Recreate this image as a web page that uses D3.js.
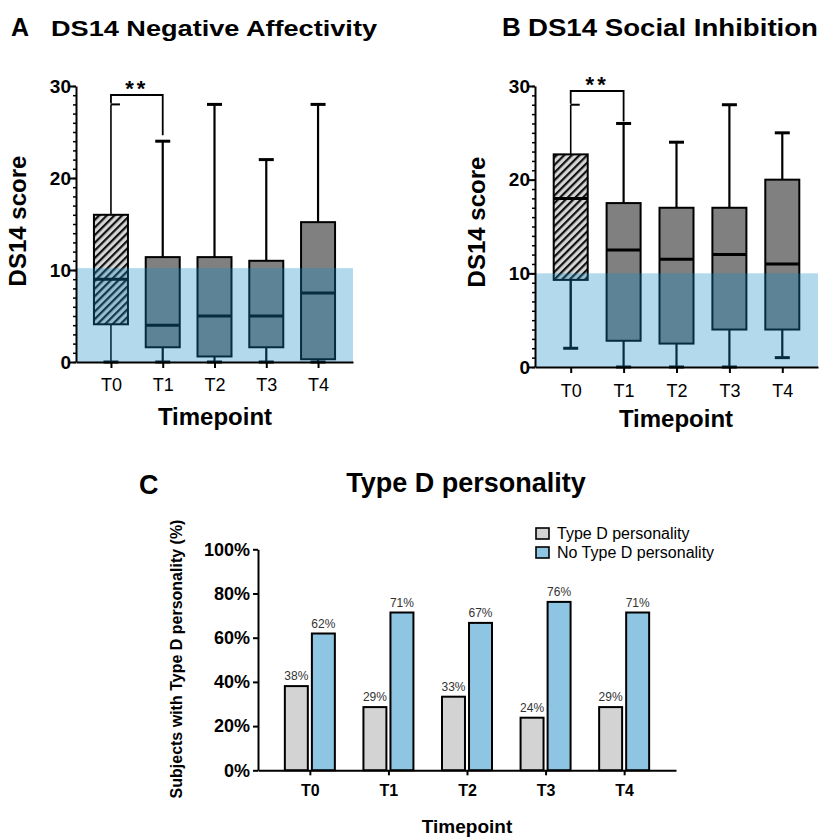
<!DOCTYPE html>
<html>
<head>
<meta charset="utf-8">
<script src="https://cdn.jsdelivr.net/npm/d3@7"></script>
<style>
  html, body { margin: 0; padding: 0; background: #fff; }
  svg { display: block; font-family: "Liberation Sans", Arial, Helvetica, sans-serif; }
</style>
</head>
<body>
<svg id="fig" width="825" height="837"></svg>
<script>
// ---------------------------------------------------------------------------
// Data
// ---------------------------------------------------------------------------
const timepoints = ["T0", "T1", "T2", "T3", "T4"];

// Panel A: DS14 Negative Affectivity (box = Q1..Q3, whiskers = min..max)
const naMin    = [0, 0, 0, 0, 0];
const naQ1     = [4.1, 1.6, 0.6, 1.6, 0.3];
const naMedian = [9, 4, 5, 5, 7.5];
const naQ3     = [16, 11.4, 11.4, 11, 15.2];
const naMax    = [28, 24, 28, 22, 28];
const naCutoff = 10.2;

// Panel B: DS14 Social Inhibition
const siMin    = [2, 0, 0, 0, 1];
const siQ1     = [9.3, 2.8, 2.5, 4, 4];
const siMedian = [18, 12.5, 11.5, 12, 11];
const siQ3     = [22.7, 17.5, 17, 17, 20];
const siMax    = [28, 26, 24, 28, 25];
const siCutoff = 10;

const scoreTicks = [0, 10, 20, 30];
const significance = { from: "T0", to: "T1", label: "**" };

// Panel C: share of subjects (%)
const groups = ["Type D personality", "No Type D personality"];
const typeD   = [38.1, 28.6, 33.3, 23.8, 28.6];
const noTypeD = [61.9, 71.4, 66.7, 76.2, 71.4];
const pctTicks = [0, 20, 40, 60, 80, 100];

// ---------------------------------------------------------------------------
const svg = d3.select("#fig");
const defs = svg.append("defs");

defs.append("pattern")
  .attr("id", "hatch")
  .attr("patternUnits", "userSpaceOnUse")
  .attr("width", 5.4).attr("height", 5.4)
  .attr("patternTransform", "rotate(45)")
  .call(p => {
    p.append("rect").attr("width", 5.4).attr("height", 5.4).attr("fill", "#d6d6d6");
    p.append("rect").attr("width", 2.2).attr("height", 5.4).attr("fill", "#111");
  });

const BAND_FILL = "rgb(17,137,197)";
const BAND_OPACITY = 0.32;

function styleAxis(g, width) {
  g.select(".domain").attr("stroke", "#000").attr("stroke-width", width);
  g.selectAll(".tick line").attr("stroke", "#000").attr("stroke-width", width);
}

function drawBoxPanel(cfg) {
  const g = svg.append("g");
  const x = d3.scalePoint().domain(timepoints).range(cfg.xRange).padding(0.675);
  const y = d3.scaleLinear().domain([0, 30]).range(cfg.yRange);
  const boxW = 34, capW = 15;

  const rows = timepoints.map((t, i) => ({
    t, i, min: cfg.min[i], q1: cfg.q1[i], med: cfg.median[i], q3: cfg.q3[i], max: cfg.max[i],
  }));

  const box = g.selectAll("g.box").data(rows).join("g").attr("class", "box");
  // whiskers
  box.append("line")
    .attr("x1", d => x(d.t)).attr("x2", d => x(d.t))
    .attr("y1", d => y(d.max)).attr("y2", d => y(d.q3))
    .attr("stroke", "#000").attr("stroke-width", d => d.i === 0 ? 1.6 : 2.2);
  box.append("line")
    .attr("x1", d => x(d.t)).attr("x2", d => x(d.t))
    .attr("y1", d => y(d.q1)).attr("y2", d => y(d.min))
    .attr("stroke", "#000").attr("stroke-width", d => d.i === 0 ? cfg.lowWhisker0 : 2.2);
  // caps (the top one under the bracket only juts out to the right, as in the figure)
  box.selectAll("line.cap").data(d => [[d, d.max, true], [d, d.min, false]]).join("line")
    .attr("class", "cap")
    .attr("x1", d => x(d[0].t) - (d[0].i === 0 && d[2] ? 0 : capW / 2))
    .attr("x2", d => x(d[0].t) + (d[0].i === 0 && d[2] ? 9 : capW / 2))
    .attr("y1", d => y(d[1])).attr("y2", d => y(d[1]))
    .attr("stroke", "#000").attr("stroke-width", d => d[0].i === 0 && d[2] ? 2 : 3);
  // box
  box.append("rect")
    .attr("x", d => x(d.t) - boxW / 2).attr("width", boxW)
    .attr("y", d => y(d.q3)).attr("height", d => y(d.q1) - y(d.q3))
    .attr("fill", d => d.i === 0 ? "url(#hatch)" : "#808080")
    .attr("stroke", "#000").attr("stroke-width", 2);
  // median
  box.append("line")
    .attr("x1", d => x(d.t) - boxW / 2).attr("x2", d => x(d.t) + boxW / 2)
    .attr("y1", d => y(d.med)).attr("y2", d => y(d.med))
    .attr("stroke", "#000").attr("stroke-width", 3);

  // normal-range band drawn over the boxes
  g.append("rect")
    .attr("x", cfg.xRange[0]).attr("width", cfg.xRange[1] - cfg.xRange[0])
    .attr("y", y(cfg.cutoff)).attr("height", y(0) - y(cfg.cutoff))
    .attr("fill", BAND_FILL).attr("opacity", BAND_OPACITY);

  // significance bracket
  const i0 = timepoints.indexOf(significance.from), i1 = timepoints.indexOf(significance.to);
  const by = cfg.bracketY;
  g.append("path")
    .attr("d", `M${x(significance.from)},${y(cfg.max[i0]) - 1} V${by} H${x(significance.to)} V${y(cfg.max[i1]) - cfg.rightGap}`)
    .attr("fill", "none").attr("stroke", "#000").attr("stroke-width", 1.8);
  g.append("text")
    .attr("x", (x(significance.from) + x(significance.to)) / 2)
    .attr("y", by + 1)
    .attr("text-anchor", "middle")
    .attr("font-size", 22).attr("font-weight", "bold")
    .attr("letter-spacing", 3)
    .text(significance.label);

  // axes
  const gy = g.append("g").attr("transform", `translate(${cfg.xRange[0]},0)`);
  gy.append("g")
    .call(d3.axisLeft(y).tickValues(d3.range(0, 31)).tickSize(3).tickSizeOuter(0).tickFormat(""))
    .call(a => { a.select(".domain").remove(); a.selectAll(".tick line").attr("stroke", "#000").attr("stroke-width", 1.5); });
  gy.append("g")
    .call(d3.axisLeft(y).tickValues(scoreTicks).tickSize(6).tickSizeOuter(0).tickPadding(-1))
    .call(a => styleAxis(a, 2))
    .call(a => a.selectAll("text").attr("font-size", 19).attr("font-weight", "bold")
      .attr("fill", "#000").attr("font-family", null));

  g.append("g").attr("transform", `translate(0,${y(0)})`)
    .call(d3.axisBottom(x).tickSize(6).tickSizeOuter(0))
    .call(a => styleAxis(a, 2))
    .call(a => a.selectAll("text").attr("font-size", 18).attr("fill", "#000")
      .attr("font-family", null).attr("dy", null).attr("y", cfg.xTickBase - y(0)));

  // titles
  g.append("text")
    .attr("transform", `translate(${cfg.yLabelX},${cfg.yLabelY}) rotate(-90)`)
    .attr("text-anchor", "middle").attr("font-size", 24).attr("font-weight", "bold")
    .text("DS14 score");
  g.append("text")
    .attr("x", cfg.xTitleX).attr("y", cfg.xTitleBase)
    .attr("text-anchor", "middle").attr("font-size", 24).attr("font-weight", "bold")
    .text("Timepoint");
  g.append("text")
    .attr("x", cfg.letterX).attr("y", 36)
    .attr("font-size", cfg.letterSize).attr("font-weight", "bold")
    .text(cfg.letter);
  g.append("text")
    .attr("x", cfg.titleX).attr("y", 36)
    .attr("font-size", cfg.titleSize).attr("font-weight", "bold")
    .attr("textLength", cfg.titleW).attr("lengthAdjust", "spacingAndGlyphs")
    .text(cfg.title);
}

drawBoxPanel({
  letter: "A", letterX: 11, letterSize: 25,
  title: "DS14 Negative Affectivity", titleX: 51, titleSize: 22, titleW: 326,
  min: naMin, q1: naQ1, median: naMedian, q3: naQ3, max: naMax, cutoff: naCutoff,
  xRange: [76, 353], yRange: [362, 86],
  bracketY: 95, rightGap: 6, lowWhisker0: 1.6,
  xTickBase: 391, yLabelX: 26, yLabelY: 221, xTitleX: 215, xTitleBase: 425,
});

drawBoxPanel({
  letter: "B", letterX: 502, letterSize: 26,
  title: "DS14 Social Inhibition", titleX: 528, titleSize: 24, titleW: 290,
  min: siMin, q1: siQ1, median: siMedian, q3: siQ3, max: siMax, cutoff: siCutoff,
  xRange: [535, 818], yRange: [367, 86],
  bracketY: 91, rightGap: 2, lowWhisker0: 2.4,
  xTickBase: 397, yLabelX: 485, yLabelY: 222, xTitleX: 676, xTitleBase: 427,
});

// ---------------------------------------------------------------------------
// Panel C: grouped bars
// ---------------------------------------------------------------------------
(function drawBars() {
  const g = svg.append("g");
  const x = d3.scalePoint().domain(timepoints).range([258, 676]).padding(0.66);
  const sub = d3.scaleBand().domain(groups).range([-25, 25]).paddingInner(0.15);
  const y = d3.scaleLinear().domain([0, 100]).range([770.3, 549.3]);
  const color = d3.scaleOrdinal().domain(groups).range(["#d3d3d3", "#8dc5e3"]);

  const rows = [];
  timepoints.forEach((t, i) => {
    rows.push({ t, group: groups[0], v: typeD[i] });
    rows.push({ t, group: groups[1], v: noTypeD[i] });
  });

  g.selectAll("rect.bar").data(rows).join("rect")
    .attr("class", "bar")
    .attr("x", d => x(d.t) + sub(d.group))
    .attr("width", sub.bandwidth())
    .attr("y", d => y(d.v))
    .attr("height", d => y(0) - y(d.v))
    .attr("fill", d => color(d.group))
    .attr("stroke", "#000").attr("stroke-width", 2);

  g.selectAll("text.val").data(rows).join("text")
    .attr("class", "val")
    .attr("x", d => x(d.t) + sub(d.group) + sub.bandwidth() / 2)
    .attr("y", d => y(d.v) - 6)
    .attr("text-anchor", "middle").attr("font-size", 12).attr("fill", "#333")
    .text(d => d3.format(".0f")(d.v) + "%");

  g.append("g").attr("transform", "translate(258,0)")
    .call(d3.axisLeft(y).tickValues(pctTicks).tickSize(5).tickSizeOuter(0).tickPadding(3)
      .tickFormat(d => d + "%"))
    .call(a => styleAxis(a, 2))
    .call(a => a.selectAll("text").attr("font-size", 18).attr("font-weight", "bold")
      .attr("fill", "#000").attr("font-family", null));

  g.append("g").attr("transform", `translate(0,${y(0)})`)
    .call(d3.axisBottom(x).tickSize(5).tickSizeOuter(0))
    .call(a => styleAxis(a, 2))
    .call(a => a.selectAll("text").attr("font-size", 16).attr("font-weight", "bold")
      .attr("fill", "#000").attr("font-family", null).attr("dy", null).attr("y", 796.5 - y(0)));

  g.append("text")
    .attr("transform", "translate(182,659) rotate(-90)")
    .attr("text-anchor", "middle").attr("font-size", 16).attr("font-weight", "bold")
    .text("Subjects with Type D personality (%)");
  g.append("text")
    .attr("x", 467).attr("y", 833)
    .attr("text-anchor", "middle").attr("font-size", 19).attr("font-weight", "bold")
    .text("Timepoint");
  g.append("text")
    .attr("x", 466).attr("y", 492)
    .attr("text-anchor", "middle").attr("font-size", 27).attr("font-weight", "bold")
    .text("Type D personality");
  g.append("text")
    .attr("x", 139).attr("y", 494)
    .attr("font-size", 27).attr("font-weight", "bold")
    .text("C");

  // legend
  const leg = g.selectAll("g.leg").data(groups).join("g")
    .attr("class", "leg")
    .attr("transform", (d, i) => `translate(536,${528 + i * 19})`);
  leg.append("rect")
    .attr("width", 13).attr("height", 11)
    .attr("fill", d => color(d)).attr("stroke", "#000").attr("stroke-width", 1.6);
  leg.append("text")
    .attr("x", 21).attr("y", 11)
    .attr("font-size", 16).attr("fill", "#000")
    .text(d => d);
})();
</script>
</body>
</html>
